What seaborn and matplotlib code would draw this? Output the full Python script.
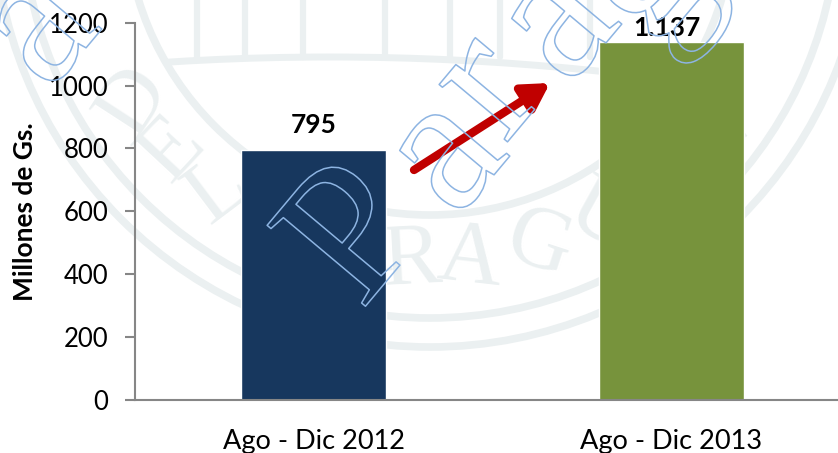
import matplotlib
matplotlib.use("Agg")
import matplotlib.patheffects as pe
import matplotlib.pyplot as plt
import numpy as np
import pandas as pd
import seaborn as sns
from matplotlib.patches import Circle

periods = ["Ago - Dic 2012", "Ago - Dic 2013"]
amounts = [795, 1137]
value_labels = ["795", "1.137"]
label_gaps = [9, 2]
label_shifts = [0, -3]
bar_colors = ["#17375E", "#77933C"]
y_ticks = [0, 200, 400, 600, 800, 1000, 1200]

W, H = 838, 453
SEAL = "#EBF0F1"
AXIS = "#868686"
BLUE = "#8DB4E2"

sns.set_theme(style="white")
plt.rcParams["font.family"] = ["Lato", "DejaVu Sans"]

fig = plt.figure(figsize=(W / 100, H / 100), dpi=100)

# seal in the background, pixel coordinates
bg = fig.add_axes([0, 0, 1, 1], zorder=0)
bg.set_xlim(0, W)
bg.set_ylim(H, 0)
bg.axis("off")
cx, cy = 430, -90
inner = Circle((cx, cy), 305, fill=False, ec=SEAL, lw=5.5)
bg.add_patch(inner)
for r in [408, 437]:
    bg.add_patch(Circle((cx, cy), r, fill=False, ec=SEAL, lw=5.5))
roof = Circle((330, 2617), 2560, fill=False, ec=SEAL, lw=5)
bg.add_patch(roof)
roof.set_clip_path(Circle((cx, cy), 305, transform=bg.transData))
for x in [197, 245, 303, 385, 450, 500, 590]:
    bg.plot([x, x], [0, 57], color=SEAL, lw=4.5)
for ch, ang in zip("DELPARAGUAY", [-57, -47, -37, -22, -12, -3, 6.5, 18, 29, 40, 50]):
    a = np.radians(ang)
    bg.text(cx + 352 * np.sin(a), cy + 352 * np.cos(a), ch, family="Liberation Serif",
            fontsize=64, color=SEAL, rotation=-ang, ha="center", va="center")

# the chart, its x axis runs past the right edge
ax = fig.add_axes([135 / W, (H - 399.7) / H, 715 / W, 377 / H], zorder=1)
ax.patch.set_alpha(0)
df = pd.DataFrame({"period": periods, "amount": amounts})
sns.barplot(data=df, x="period", y="amount", hue="period", palette=bar_colors,
            legend=False, width=0.405, saturation=1, ax=ax)
ax.set_xlim(-0.5, 1.5)
ax.set_ylim(0, 1200)
ax.set_yticks(y_ticks)
ax.set_xticks([-0.5, 0.5, 1.5], minor=True)
ax.set_xlabel("")
ax.set_ylabel("Millones de Gs.", fontsize=19, fontweight="bold", color="black")
ax.yaxis.set_label_coords(-98 / 715, 0.5)
ax.tick_params(axis="x", which="major", length=0, labelsize=19.5, pad=21, labelcolor="black")
ax.tick_params(axis="x", which="minor", length=8, width=1.5, color=AXIS)
ax.tick_params(axis="y", length=7, width=1.5, color=AXIS, labelsize=18.5, pad=12, labelcolor="black", left=True)
sns.despine(ax=ax)
for side in ["left", "bottom"]:
    ax.spines[side].set_color(AXIS)
    ax.spines[side].set_linewidth(1.5)
for i, (v, lab, gap, shift) in enumerate(zip(amounts, value_labels, label_gaps, label_shifts)):
    ax.annotate(lab, (i, v), xytext=(shift, gap), textcoords="offset points", ha="center",
                va="bottom", fontsize=19, fontweight="bold", color="black", annotation_clip=False)

# red growth arrow and blue outlined watermark on top
top = fig.add_axes([0, 0, 1, 1], zorder=2)
top.set_xlim(0, W)
top.set_ylim(H, 0)
top.axis("off")
top.annotate("", xy=(550, 83), xytext=(414, 170),
             arrowprops=dict(arrowstyle="-|>,head_length=1.3,head_width=0.75", lw=6,
                             color="#C00000", shrinkA=0, shrinkB=0))
outline = [pe.Stroke(linewidth=1.1, foreground=BLUE)]
for ch, x, y in [("P", 360, 240), ("a", 448, 157), ("r", 490, 90), ("a", 560, 25),
                 ("g", 650, -15), ("a", 40, 30)]:
    top.text(x, y, ch, family="Liberation Serif", fontsize=140, color="none", rotation=50,
             ha="center", va="center", path_effects=outline, clip_on=True)

fig.savefig("out.png", dpi=100)
